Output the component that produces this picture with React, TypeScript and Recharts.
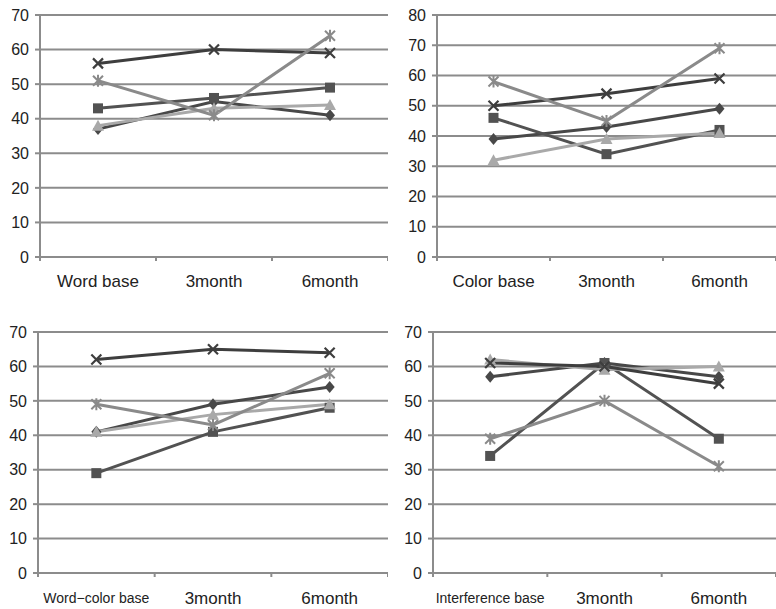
import React from 'react';
import { LineChart, Line, XAxis, YAxis, CartesianGrid } from 'recharts';

// Categories
const wordCats = ['Word base', '3month', '6month'];
const colorCats = ['Color base', '3month', '6month'];
const wordColorCats = ['Word\u2212color base', '3month', '6month'];
const interfCats = ['Interference base', '3month', '6month'];

// Y ticks
const ticks70 = [0, 10, 20, 30, 40, 50, 60, 70];
const ticks80 = [0, 10, 20, 30, 40, 50, 60, 70, 80];

// Panel 1: Word
const wordDiamond = [37, 45, 41];
const wordSquare = [43, 46, 49];
const wordTriangle = [38, 43, 44];
const wordX = [56, 60, 59];
const wordStar = [51, 41, 64];

// Panel 2: Color
const colorDiamond = [39, 43, 49];
const colorSquare = [46, 34, 42];
const colorTriangle = [32, 39, 41];
const colorX = [50, 54, 59];
const colorStar = [58, 45, 69];

// Panel 3: Word-color
const wcDiamond = [41, 49, 54];
const wcSquare = [29, 41, 48];
const wcTriangle = [41, 46, 49];
const wcX = [62, 65, 64];
const wcStar = [49, 43, 58];

// Panel 4: Interference
const inDiamond = [57, 61, 57];
const inSquare = [34, 61, 39];
const inTriangle = [62, 59, 60];
const inX = [61, 60, 55];
const inStar = [39, 50, 31];

const build = (cats: string[], d: number[], s: number[], t: number[], x: number[], st: number[]) =>
  cats.map((c, i) => ({ cat: c, diamond: d[i], square: s[i], triangle: t[i], x: x[i], star: st[i] }));

const SERIES = [
  { key: 'diamond', color: '#484848' },
  { key: 'square', color: '#525252' },
  { key: 'triangle', color: '#a9a9a9' },
  { key: 'x', color: '#3e3e3e' },
  { key: 'star', color: '#8a8a8a' },
];

const GRID = '#8c8c8c';
const FONT = "'Liberation Sans', Arial, sans-serif";

const makeDot = (shape: string, color: string) => (props: any) => {
  const { cx, cy, index } = props;
  if (cx == null || cy == null) return <g key={index} />;
  const k = `${shape}-${index}`;
  switch (shape) {
    case 'diamond':
      return <polygon key={k} points={`${cx},${cy - 6} ${cx + 5},${cy} ${cx},${cy + 6} ${cx - 5},${cy}`} fill={color} />;
    case 'square':
      return <rect key={k} x={cx - 5} y={cy - 5} width={10} height={10} fill={color} />;
    case 'triangle':
      return <polygon key={k} points={`${cx},${cy - 6} ${cx + 6},${cy + 5} ${cx - 6},${cy + 5}`} fill={color} />;
    case 'x':
      return (
        <path key={k} d={`M${cx - 5},${cy - 5}L${cx + 5},${cy + 5}M${cx - 5},${cy + 5}L${cx + 5},${cy - 5}`} stroke={color} strokeWidth={2.2} />
      );
    default:
      return (
        <path key={k} d={`M${cx - 5},${cy - 5}L${cx + 5},${cy + 5}M${cx - 5},${cy + 5}L${cx + 5},${cy - 5}M${cx},${cy - 6}L${cx},${cy + 6}`} stroke={color} strokeWidth={2} />
      );
  }
};

const makeXTick = (labelOffset: number, plotWidth: number) => (props: any) => {
  const { x, y, payload, index } = props;
  const long = String(payload.value).length > 10;
  const count = 3;
  const band = plotWidth / count;
  const axisY = y - labelOffset;
  const marks = [x - band / 2];
  if (index === count - 1) marks.push(x + band / 2);
  return (
    <g>
      {marks.map((mx, i) => (
        <line key={i} x1={mx} x2={mx} y1={axisY} y2={axisY + 4} stroke={GRID} strokeWidth={2} />
      ))}
      <text x={x} y={y} dy={long ? 11 : 12} textAnchor="middle" fill="#222" fontSize={long ? 14 : 17} fontFamily={FONT}>
        {payload.value}
      </text>
    </g>
  );
};

type PanelProps = {
  data: any[];
  left: number;
  top: number;
  width: number;
  height: number;
  yWidth: number;
  marginTop: number;
  xHeight: number;
  yMax: number;
  yTicks: number[];
  labelOffset: number;
};

const Panel = (p: PanelProps) => (
  <div style={{ position: 'absolute', left: p.left, top: p.top }}>
    <LineChart width={p.width} height={p.height} data={p.data} margin={{ top: p.marginTop, right: 0, left: 0, bottom: 0 }}>
      <CartesianGrid vertical={false} stroke={GRID} strokeWidth={2} />
      <XAxis
        dataKey="cat"
        scale="band"
        height={p.xHeight}
        tickSize={0}
        tickMargin={p.labelOffset}
        tickLine={false}
        axisLine={{ stroke: GRID, strokeWidth: 2 }}
        tick={makeXTick(p.labelOffset, p.width - p.yWidth)}
        interval={0}
      />
      <YAxis
        width={p.yWidth}
        domain={[0, p.yMax]}
        ticks={p.yTicks}
        interval={0}
        tickSize={5}
        tickMargin={6}
        axisLine={{ stroke: GRID, strokeWidth: 2 }}
        tickLine={{ stroke: GRID, strokeWidth: 2 }}
        tick={{ fill: '#222', fontSize: 16, fontFamily: FONT }}
      />
      {SERIES.map((s) => (
        <Line
          key={s.key}
          dataKey={s.key}
          stroke={s.color}
          strokeWidth={3}
          dot={makeDot(s.key, s.color)}
          activeDot={false}
          isAnimationActive={false}
        />
      ))}
    </LineChart>
  </div>
);

export default function App() {
  return (
    <div style={{ position: 'absolute', left: 0, top: 0, width: 776, height: 609, background: '#fff' }}>
      <Panel data={build(wordCats, wordDiamond, wordSquare, wordTriangle, wordX, wordStar)} left={0} top={0} width={388} height={300} yWidth={40} marginTop={15} xHeight={43} yMax={70} yTicks={ticks70} labelOffset={18} />
      <Panel data={build(colorCats, colorDiamond, colorSquare, colorTriangle, colorX, colorStar)} left={390} top={0} width={386} height={300} yWidth={47} marginTop={15} xHeight={43} yMax={80} yTicks={ticks80} labelOffset={18} />
      <Panel data={build(wordColorCats, wcDiamond, wcSquare, wcTriangle, wcX, wcStar)} left={0} top={305} width={388} height={304} yWidth={38} marginTop={27} xHeight={36} yMax={70} yTicks={ticks70} labelOffset={19} />
      <Panel data={build(interfCats, inDiamond, inSquare, inTriangle, inX, inStar)} left={390} top={305} width={386} height={304} yWidth={43} marginTop={27} xHeight={36} yMax={70} yTicks={ticks70} labelOffset={19} />
    </div>
  );
}
